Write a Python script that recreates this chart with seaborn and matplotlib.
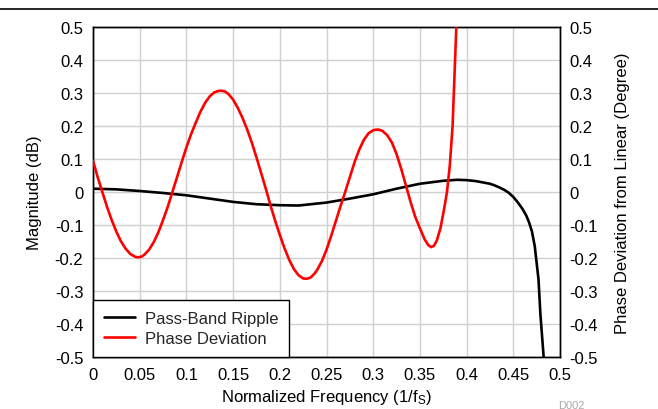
import matplotlib
matplotlib.use("Agg")
import matplotlib.pyplot as plt
import seaborn as sns
import pandas as pd
from matplotlib.lines import Line2D

# ---- data ----
ripple_x = [0.0, 0.025, 0.05, 0.075, 0.1, 0.125, 0.15, 0.175, 0.2, 0.22, 0.25, 0.275,
            0.3, 0.325, 0.35, 0.375, 0.39, 0.4, 0.41, 0.425, 0.43, 0.435, 0.44, 0.445,
            0.45, 0.455, 0.46, 0.464, 0.467, 0.47, 0.473, 0.477, 0.479, 0.4825, 0.485]
ripple_y = [0.01, 0.008, 0.003, -0.003, -0.01, -0.02, -0.03, -0.037, -0.04, -0.041, -0.032, -0.02,
            -0.007, 0.01, 0.025, 0.034, 0.037, 0.036, 0.033, 0.025, 0.02, 0.014, 0.007, -0.002,
            -0.015, -0.032, -0.052, -0.072, -0.093, -0.12, -0.165, -0.265, -0.37, -0.5, -0.6]

phase_x = [0.0, 0.005, 0.01, 0.015, 0.02, 0.025, 0.03, 0.035, 0.04, 0.045, 0.048, 0.052, 0.055,
           0.06, 0.065, 0.07, 0.075, 0.08, 0.085, 0.09, 0.096, 0.1, 0.105, 0.11, 0.115, 0.12,
           0.125, 0.13, 0.134, 0.137, 0.141, 0.145, 0.15, 0.155, 0.16, 0.165, 0.17, 0.175,
           0.18, 0.185, 0.19, 0.195, 0.2, 0.205, 0.21, 0.215, 0.22, 0.225, 0.229, 0.233,
           0.237, 0.24, 0.245, 0.25, 0.255, 0.26, 0.265, 0.27, 0.275, 0.28, 0.285, 0.29,
           0.295, 0.3, 0.303, 0.306, 0.31, 0.315, 0.32, 0.325, 0.33, 0.335, 0.34, 0.345,
           0.35, 0.355, 0.359, 0.362, 0.365, 0.368, 0.372, 0.376, 0.379, 0.382, 0.385,
           0.389, 0.392]
phase_y = [0.095, 0.045, 0.0, -0.045, -0.085, -0.12, -0.15, -0.172, -0.188, -0.196, -0.198, -0.196, -0.19,
           -0.175, -0.152, -0.122, -0.085, -0.045, 0.0, 0.045, 0.1, 0.135, 0.175, 0.21, 0.243, 0.27,
           0.29, 0.302, 0.306, 0.307, 0.305, 0.297, 0.28, 0.255, 0.225, 0.19, 0.15, 0.105,
           0.058, 0.01, -0.04, -0.087, -0.13, -0.17, -0.205, -0.233, -0.252, -0.262, -0.263, -0.259,
           -0.248, -0.236, -0.21, -0.175, -0.133, -0.088, -0.043, 0.0, 0.045, 0.09, 0.128, 0.158,
           0.178, 0.187, 0.189, 0.189, 0.185, 0.172, 0.15, 0.115, 0.07, 0.02, -0.03, -0.075,
           -0.11, -0.143, -0.161, -0.167, -0.163, -0.148, -0.11, -0.05, 0.0, 0.08, 0.2,
           0.5, 0.75]

xticks = [0, 0.05, 0.1, 0.15, 0.2, 0.25, 0.3, 0.35, 0.4, 0.45, 0.5]
xtick_labels = ["0", "0.05", "0.1", "0.15", "0.2", "0.25", "0.3", "0.35", "0.4", "0.45", "0.5"]
yticks = [0.5, 0.4, 0.3, 0.2, 0.1, 0.0, -0.1, -0.2, -0.3, -0.4, -0.5]
ytick_labels = ["0.5", "0.4", "0.3", "0.2", "0.1", "0", "-0.1", "-0.2", "-0.3", "-0.4", "-0.5"]

ripple_df = pd.DataFrame({"f": ripple_x, "v": ripple_y})
phase_df = pd.DataFrame({"f": phase_x, "v": phase_y})

sns.set_theme(style="white")
plt.rcParams["font.family"] = ["Liberation Sans", "DejaVu Sans"]
plt.rcParams["mathtext.default"] = "regular"

fig = plt.figure(figsize=(6.58, 4.10), dpi=100)
ax = fig.add_axes([93 / 658, 1 - 358 / 410, (560 - 93) / 658, (358 - 28) / 410])
ax2 = ax.twinx()

FS = 12
grid_c = "#d0d0d0"

sns.lineplot(data=ripple_df, x="f", y="v", ax=ax, color="black", linewidth=1.9,
             sort=False, legend=False, zorder=3)
sns.lineplot(data=phase_df, x="f", y="v", ax=ax2, color="#ff0000", linewidth=1.9,
             sort=False, legend=False, zorder=3)

for a in (ax, ax2):
    a.set_xlim(0, 0.5)
    a.set_ylim(-0.5, 0.5)
    a.set_yticks(yticks)
    a.set_yticklabels(ytick_labels)
    a.tick_params(axis="both", length=0, labelsize=FS, colors="black")
    for s in a.spines.values():
        s.set_color("black")
        s.set_linewidth(1.0)

ax.tick_params(axis="y", pad=7)
ax2.tick_params(axis="y", pad=7)
ax.tick_params(axis="x", pad=7)
ax.set_xticks(xticks)
ax.set_xticklabels(xtick_labels)
ax.grid(True, color=grid_c, linewidth=1.0)
ax.set_axisbelow(True)
ax2.grid(False)

ax.set_xlabel("Normalized Frequency (1/f$_\\mathregular{S}$)", fontsize=FS, labelpad=4, color="black")
ax.set_ylabel("Magnitude (dB)", fontsize=FS, labelpad=9, color="black")
ax2.set_ylabel("Phase Deviation from Linear (Degree)", fontsize=FS, labelpad=12, color="black")

handles = [Line2D([], [], color="black", linewidth=1.9),
           Line2D([], [], color="#ff0000", linewidth=1.9)]
leg = ax2.legend(handles, ["Pass-Band Ripple", "Phase Deviation"], loc="lower left",
                 bbox_to_anchor=(0, 0), borderaxespad=0, fontsize=FS, frameon=True,
                 fancybox=False, framealpha=1, edgecolor="black", handlelength=1.85,
                 handletextpad=0.6, borderpad=0.65, labelspacing=0.3)
leg.get_frame().set_linewidth(1.0)

fig.add_artist(Line2D([0, 1], [1 - 10 / 410, 1 - 10 / 410], color="black", linewidth=1.2,
                      transform=fig.transFigure))
fig.text(571 / 658, 1 - 406 / 410, "D002", fontsize=8, color="#aaaaaa", ha="center", va="center")

fig.savefig("out.png", dpi=100)
